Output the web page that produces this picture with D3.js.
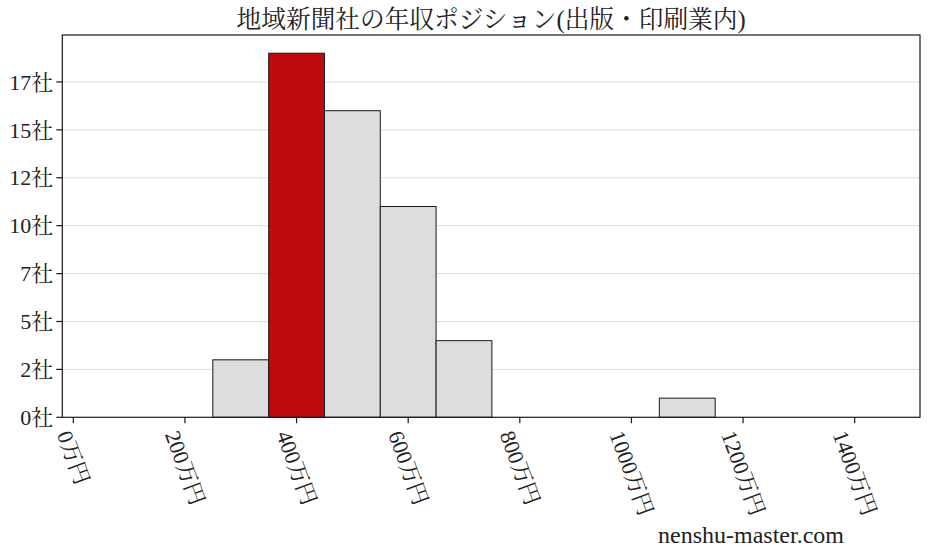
<!DOCTYPE html>
<html>
<head>
<meta charset="utf-8">
<script src="https://cdn.jsdelivr.net/npm/d3@7"></script>
<style>
  html, body { margin: 0; padding: 0; background: #fff; }
  svg { display: block; }
  text { font-family: "Liberation Serif", "Noto Serif CJK JP", "Noto Sans CJK JP", serif; fill: #222; }
</style>
</head>
<body>
<svg id="chart" width="928" height="557"></svg>
<script>
// ---- data ----
const binStarts = [250, 350, 450, 550, 650, 750, 850, 950, 1050];
const binWidth = 100;
const counts = [3, 19, 16, 11, 4, 0, 0, 0, 1];
const highlightBin = 350;
const xTicks = [0, 200, 400, 600, 800, 1000, 1200, 1400];
const yTicks = [0, 2.5, 5, 7.5, 10, 12.5, 15, 17.5];
const titleText = "地域新聞社の年収ポジション(出版・印刷業内)";
const watermark = "nenshu-master.com";

// ---- layout ----
const svg = d3.select("#chart");
const L = 62.3, R = 920, T = 35, B = 417.3;
const x = d3.scaleLinear().domain([-19.7, 1517]).range([L, R]);
const y = d3.scaleLinear().domain([0, d3.max(counts) * 1.05]).range([B, T]);

// grid
svg.append("g").selectAll("line").data(yTicks.filter(d => d > 0)).join("line")
  .attr("x1", L).attr("x2", R)
  .attr("y1", d => y(d)).attr("y2", d => y(d))
  .attr("stroke", "#dddddd").attr("stroke-width", 1);

// bars
svg.append("g").selectAll("rect").data(binStarts.map((s, i) => ({s, c: counts[i]})).filter(d => d.c > 0)).join("rect")
  .attr("x", d => x(d.s))
  .attr("width", d => x(d.s + binWidth) - x(d.s))
  .attr("y", d => y(d.c))
  .attr("height", d => y(0) - y(d.c))
  .attr("fill", d => d.s === highlightBin ? "#be0a0a" : "#dcdddf")
  .attr("stroke", "#1a1a1a").attr("stroke-width", 1);

// frame
svg.append("rect").attr("x", L).attr("y", T).attr("width", R - L).attr("height", B - T)
  .attr("fill", "none").attr("stroke", "#1a1a1a").attr("stroke-width", 1.2);

// y axis ticks & labels
const yg = svg.append("g");
yg.selectAll("line").data(yTicks).join("line")
  .attr("x1", L - 6).attr("x2", L).attr("y1", d => y(d)).attr("y2", d => y(d))
  .attr("stroke", "#1a1a1a").attr("stroke-width", 1.2);
yg.selectAll("text").data(yTicks).join("text")
  .attr("x", L - 9).attr("y", d => y(d))
  .attr("dy", "0.35em")
  .attr("text-anchor", "end")
  .style("font-size", "22px")
  .text(d => Math.floor(d) + "社");

// x axis ticks & labels
const xg = svg.append("g");
xg.selectAll("line").data(xTicks).join("line")
  .attr("x1", d => x(d)).attr("x2", d => x(d)).attr("y1", B).attr("y2", B + 6)
  .attr("stroke", "#1a1a1a").attr("stroke-width", 1.2);
xTicks.forEach(t => {
  const g = xg.append("g");
  g.append("text")
    .attr("transform", "rotate(70)")
    .attr("text-anchor", "start")
    .style("font-size", "22px")
    .text(t + "万円");
  const bb = g.node().getBBox();
  g.attr("transform", `translate(${x(t) - (bb.x + bb.width / 2)},${B + 10 - bb.y})`);
});

// title
svg.append("text").attr("x", (L + R) / 2).attr("y", 28)
  .attr("text-anchor", "middle").style("font-size", "24.7px")
  .text(titleText);

// watermark
svg.append("text").attr("x", 751).attr("y", 543)
  .attr("text-anchor", "middle").style("font-size", "24px")
  .text(watermark);
</script>
</body>
</html>
